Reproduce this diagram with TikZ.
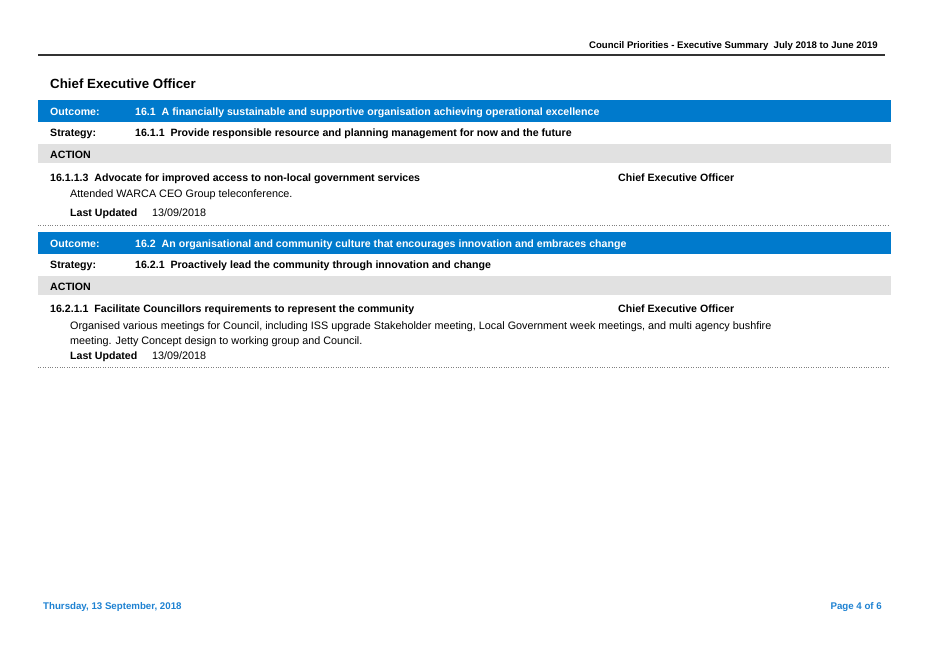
\documentclass[tikz,border=0pt]{standalone}
\usepackage{fontspec}
\setmainfont{Liberation Sans}
\begin{document}
\definecolor{bar}{RGB}{0,122,204}
\definecolor{gbar}{RGB}{225,225,225}
\definecolor{foot}{RGB}{30,130,210}
\begin{tikzpicture}[x=1pt,y=-1pt,
  t/.style={anchor=base west,inner sep=0pt,font=\fontsize{10.8}{12}\selectfont},
  b/.style={t,font=\fontsize{10.6}{12}\selectfont\bfseries},
  w/.style={b,text=white}]
\useasboundingbox[fill=white] (0,0) rectangle (928,657);
\node[anchor=base east,inner sep=0pt,font=\fontsize{9.6}{11}\selectfont\bfseries] (hdr) at (878,48) {Council Priorities - Executive Summary\ \ July 2018 to June 2019};
\draw[line width=1.2pt,black!80] (38,55) -- (885,55);
\node[b,font=\fontsize{13.3}{15}\selectfont\bfseries] (title) at (50,88) {Chief Executive Officer};
% block 1
\fill[bar] (38,100) rectangle (891,122);
\node[w] (o1) at (50,115) {Outcome:};
\node[w] (o1t) at (135,115) {16.1\ \ A financially sustainable and supportive organisation achieving operational excellence};
\node[b] (s1) at (50,136) {Strategy:};
\node[b] (s1t) at (135,136) {16.1.1\ \ Provide responsible resource and planning management for now and the future};
\fill[gbar] (38,144) rectangle (891,163);
\node[b] (a1) at (50,158) {ACTION};
\node[b] (i1) at (50,181) {16.1.1.3\ \ Advocate for improved access to non-local government services};
\node[b] (r1) at (618,181) {Chief Executive Officer};
\node[t] (d1) at (70,197) {Attended WARCA CEO Group teleconference.};
\node[b] (l1) at (70,216) {Last Updated};
\node[t] (l1d) at (152,216) {13/09/2018};
\draw[dotted,gray] (38,225) -- (888,225);
% block 2
\fill[bar] (38,232) rectangle (891,254);
\node[w] (o2) at (50,247) {Outcome:};
\node[w] (o2t) at (135,247) {16.2\ \ An organisational and community culture that encourages innovation and embraces change};
\node[b] (s2) at (50,268) {Strategy:};
\node[b] (s2t) at (135,268) {16.2.1\ \ Proactively lead the community through innovation and change};
\fill[gbar] (38,276) rectangle (891,295);
\node[b] (a2) at (50,290) {ACTION};
\node[b] (i2) at (50,312) {16.2.1.1\ \ Facilitate Councillors requirements to represent the community};
\node[b] (r2) at (618,312) {Chief Executive Officer};
\node[t] (d2) at (70,329) {Organised various meetings for Council, including ISS upgrade Stakeholder meeting, Local Government week meetings, and multi agency bushfire};
\node[t] (d2b) at (70,344) {meeting. Jetty Concept design to working group and Council.};
\node[b] (l2) at (70,359) {Last Updated};
\node[t] (l2d) at (152,359) {13/09/2018};
\draw[dotted,gray] (38,367) -- (888,367);
% footer
\node[b,text=foot,font=\fontsize{9.7}{11}\selectfont\bfseries] (f1) at (43,609) {Thursday, 13 September, 2018};
\node[anchor=base east,inner sep=0pt,text=foot,font=\fontsize{9.7}{11}\selectfont\bfseries] (f2) at (882,609) {Page 4 of 6};
\end{tikzpicture}
\end{document}
